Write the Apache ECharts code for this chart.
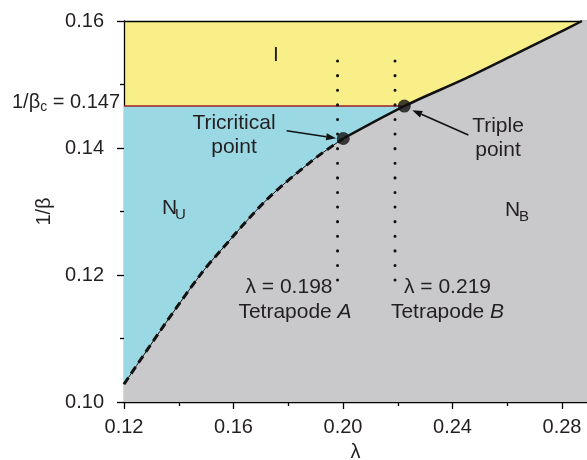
<!DOCTYPE html>
<html><head><meta charset="utf-8">
<script src="https://cdn.jsdelivr.net/npm/echarts@6/dist/echarts.min.js"></script>
<style>html,body{margin:0;padding:0;background:#fff}#c{width:587px;height:460px}</style>
</head><body><div id="c"></div>
<script>
// ---- data ----
const xTickValues = [0.12, 0.16, 0.20, 0.24, 0.28];
const xMinorTickValues = [0.14, 0.18, 0.22, 0.26];
// N_U / N_B boundary (second-order part, dashed)
const dashedLambda = [0.120, 0.135, 0.148, 0.155, 0.172, 0.189, 0.2001];
const dashedInvBeta = [0.1028, 0.1123, 0.1201, 0.1237, 0.1318, 0.1381, 0.1415];
// first-order boundary (solid), through the triple point and on to I/N_B
const solidLambda = [0.2001, 0.2224, 0.245, 0.2635, 0.2757, 0.2873];
const solidInvBeta = [0.1415, 0.1466, 0.1510, 0.1549, 0.1575, 0.1600];
const betaCLine = 0.1466;      // 1/beta_c line as drawn
const betaCLabel = '0.147';
const tricritical = [0.2001, 0.1415];
const triplePoint = [0.2224, 0.1466];
const tetrapodeLambda = [0.198, 0.219];
const tetrapodeRange = [0.1537, 0.1170];
const xMin = 0.12, xMax = 0.28913, yMin = 0.10, yMax = 0.16;

const FONT = "'Liberation Sans', Arial, Helvetica, sans-serif";
const TXT = '#231f20';
const YELLOW = '#f9ef89', BLUE = '#9ad8e4', GRAY = '#c9c9cb', RED = '#a11d22';

const pairs = (xs, ys) => xs.map((x, i) => [x, ys[i]]);
const boundary = pairs(dashedLambda, dashedInvBeta).concat(pairs(solidLambda.slice(1), solidInvBeta.slice(1)));
// carry the boundary past the frame so the grey fills the corner (clipped)
const last = boundary[boundary.length - 1], prev = boundary[boundary.length - 2];
const slope = (last[1] - prev[1]) / (last[0] - prev[0]);
const grayFill = boundary.concat([[xMax + 0.002, last[1] + slope * (xMax + 0.002 - last[0])]]);

const chart = echarts.init(document.getElementById('c'), null, {renderer: 'canvas'});
const axisBlack = {lineStyle: {color: '#000', width: 1.3}};
const SM = 0.3;
const option = {
  animation: false,
  grid: {left: 124, right: 0, top: 21, bottom: 58, show: true, backgroundColor: YELLOW, borderWidth: 0,
         outerBoundsMode: 'none', containLabel: false},
  xAxis: [
    {type: 'value', min: xMin, max: xMax, position: 'bottom',
     axisLine: axisBlack, splitLine: {show: false},
     axisTick: {customValues: xTickValues, length: 7, lineStyle: {color: '#000', width: 1.3}},
     axisLabel: {customValues: xTickValues, formatter: v => v.toFixed(2), fontSize: 20, fontFamily: FONT, color: TXT, margin: 15},
     name: 'λ', nameLocation: 'middle', nameGap: 40, nameTextStyle: {fontSize: 20, fontFamily: FONT, color: TXT}},
    {type: 'value', min: xMin, max: xMax, position: 'bottom',
     axisLine: {show: false}, splitLine: {show: false}, axisLabel: {show: false},
     axisTick: {customValues: xMinorTickValues, length: 4, lineStyle: {color: '#000', width: 1.3}}},
    {type: 'value', min: xMin, max: xMax, position: 'top',
     axisLine: axisBlack, splitLine: {show: false}, axisLabel: {show: false}, axisTick: {show: false}}
  ],
  yAxis: {type: 'value', min: yMin, max: yMax, interval: 0.02,
    axisLine: axisBlack, splitLine: {show: false},
    axisTick: {length: 7, lineStyle: {color: '#000', width: 1.3}},
    minorTick: {show: true, splitNumber: 2, length: 4, lineStyle: {color: '#000', width: 1.3}},
    axisLabel: {formatter: v => v.toFixed(2), fontSize: 20, fontFamily: FONT, color: TXT, margin: 20},
    name: '1/β', nameLocation: 'middle', nameGap: 68, nameTextStyle: {fontSize: 20, fontFamily: FONT, color: TXT}},
  series: [
    {type: 'line', data: [[xMin, betaCLine], triplePoint], symbol: 'none', lineStyle: {width: 0},
     areaStyle: {color: BLUE, opacity: 1, origin: 'start'}, z: 1},
    {type: 'line', data: grayFill, symbol: 'none', smooth: SM, lineStyle: {width: 0},
     areaStyle: {color: GRAY, opacity: 1, origin: 'start'}, z: 2},
    {type: 'line', data: [[xMin, betaCLine], triplePoint], symbol: 'none', lineStyle: {color: RED, width: 1.5}, z: 3},
    {type: 'line', data: pairs(dashedLambda, dashedInvBeta), symbol: 'none', smooth: SM,
     lineStyle: {color: '#111', width: 1}, z: 4},
    {type: 'line', data: pairs(dashedLambda, dashedInvBeta), symbol: 'none', smooth: SM,
     lineStyle: {color: '#111', width: 3, type: [8, 5]}, z: 4},
    {type: 'line', data: pairs(solidLambda, solidInvBeta), symbol: 'none', smooth: SM,
     lineStyle: {color: '#111', width: 2.5}, z: 4},
    ...tetrapodeLambda.map(l => ({type: 'line', data: [[l, tetrapodeRange[0]], [l, tetrapodeRange[1]]], symbol: 'none',
      lineStyle: {color: '#111', width: 3, type: [0.1, 14.5], cap: 'round'}, z: 5})),
    {type: 'scatter', data: [tricritical, triplePoint], symbol: 'circle', symbolSize: 13,
     itemStyle: {color: '#111'}, z: 6}
  ]
};
chart.setOption(option);

// ---- annotations ----
const AF = 21;
const P = (x, y) => chart.convertToPixel({gridIndex: 0}, [x, y]);
const t = (text, x, y, size, align) => ({type: 'text', z: 100,
  style: {text, x, y, fontSize: size, fontFamily: FONT, fill: TXT, align: align || 'center', verticalAlign: 'middle'}});
const rich = (a, b, x, y) => ({type: 'text', z: 100, style: {x, y, align: 'center', verticalAlign: 'middle', fill: TXT,
  rich: {r: {fontSize: AF, fontFamily: FONT, fill: TXT}, i: {fontSize: AF, fontFamily: FONT, fontStyle: 'italic', fill: TXT}},
  text: '{r|' + a + '}{i|' + b + '}'}});
const g = [];
g.push(t('I', 276, 55, AF));
g.push(t('Tricritical', 234, 123, AF));
g.push(t('point', 234, 147, AF));
g.push(t('Triple', 498, 126, AF));
g.push(t('point', 498, 150, AF));
g.push(t('N', 162, 208, AF, 'left'));
g.push(t('U', 175, 215, 15, 'left'));
g.push(t('N', 505, 210, AF, 'left'));
g.push(t('B', 519, 217, 15, 'left'));
g.push(t('λ = 0.198', 289, 287, AF));
g.push(rich('Tetrapode ', 'A', 295, 312));
g.push(t('λ = 0.219', 447.5, 287, AF));
g.push(rich('Tetrapode ', 'B', 447.5, 312));
// 1/βc = 0.147 label
const ctx = document.createElement('canvas').getContext('2d');
ctx.font = '20px ' + FONT; const w1 = ctx.measureText(' = ' + betaCLabel).width;
ctx.font = '14px ' + FONT; const w2 = ctx.measureText('c').width;
const yc = P(xMin, betaCLine)[1] - 4;
g.push(t(' = ' + betaCLabel, 120, yc, 20, 'right'));
g.push(t('c', 120 - w1, yc + 5, 14, 'right'));
g.push(t('1/β', 120 - w1 - w2, yc, 20, 'right'));
// arrows (data coordinates)
function arrow(from, to) {
  const a = P(from[0], from[1]), b = P(to[0], to[1]);
  const dx = b[0] - a[0], dy = b[1] - a[1], L = Math.hypot(dx, dy), ux = dx / L, uy = dy / L;
  const hl = 10, hw = 3.5;
  const base = [b[0] - ux * hl, b[1] - uy * hl];
  g.push({type: 'line', z: 100, shape: {x1: a[0], y1: a[1], x2: base[0], y2: base[1]}, style: {stroke: '#111', lineWidth: 1.6}});
  g.push({type: 'polygon', z: 100, shape: {points: [b, [base[0] - uy * hw, base[1] + ux * hw], [base[0] + uy * hw, base[1] - ux * hw]]}, style: {fill: '#111'}});
}
arrow([0.1794, 0.14272], [0.1975, 0.14155]);
arrow([0.2458, 0.14205], [0.2253, 0.14595]);
chart.setOption({graphic: g});
</script></body></html>
